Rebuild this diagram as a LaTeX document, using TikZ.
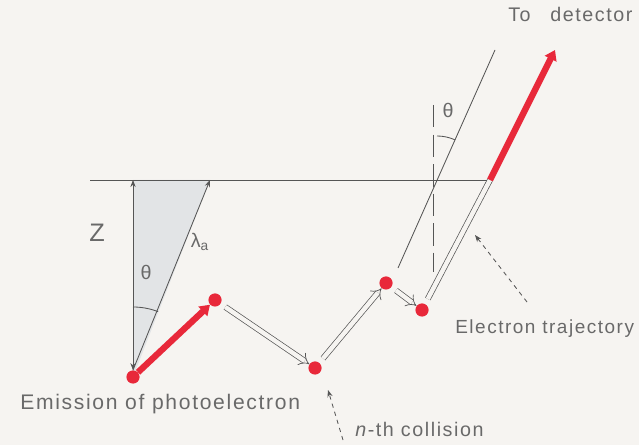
\documentclass[tikz,border=0pt]{standalone}
\usepackage{fontspec}
\setmainfont{Liberation Sans}
\usetikzlibrary{arrows.meta,positioning,calc}
\definecolor{pagebg}{RGB}{246,244,241}
\definecolor{linegray}{RGB}{85,85,85}
\definecolor{txtgray}{RGB}{105,105,105}
\definecolor{hitred}{RGB}{232,40,58}
\definecolor{shadegray}{RGB}{226,228,230}
\newfontfamily\lblfont[LetterSpace=8]{Liberation Sans}
\tikzset{
  hit/.style={circle, fill=hitred, inner sep=0pt, minimum size=0.33cm},
  lbl/.style={font=\lblfont\fontsize{14}{16}\selectfont, text=txtgray, inner sep=0pt},
  greek/.style={font=\fontsize{14}{16}\selectfont, text=txtgray, inner sep=0pt},
  thin/.style={draw=linegray, line width=0.6pt},
  redpath/.style={draw=hitred, line width=4.5pt, -{Triangle[length=7pt,width=9pt]}},
  track/.style={draw=linegray, line width=0.5pt, double=pagebg, double distance=3.2pt},
  tracka/.style={track, -{Implies}},
  pointer/.style={draw=linegray, line width=0.6pt, dashed, dash pattern=on 3pt off 3pt, -{Stealth[length=5pt]}},
}
\begin{document}
\begin{tikzpicture}[x=0.025cm, y=-0.025cm]
  \fill[pagebg] (0,0) rectangle (639,445);
  \useasboundingbox (0,0) rectangle (639,445);
  % surface and escape depth
  \coordinate (top) at (133,180);
  \coordinate (lam) at (210,180);
  \coordinate (exit) at (490,180);
  \coordinate (det) at (555,50);
  \fill[shadegray] (top) -- (lam) -- (133,377) -- cycle;
  \draw[thin] (90,180) -- (exit);
  \node[hit] (e0) at (133,377) {};
  \draw[thin, {Stealth[length=5pt]}-{Stealth[length=5pt]}] (top) -- (e0.north);
  \draw[thin, -{Stealth[length=5pt]}] (e0.north) -- (lam);
  \draw[thin] ($(e0)+(-90:70)$) arc[start angle=-90, end angle=-69, radius=70];
  \node[lbl, font=\lblfont\fontsize{18}{20}\selectfont] (zlbl) at (97,233) {Z};
  \node[greek] (th1) at (146,272) {θ};
  \node[greek] (lamlbl) at (200,242) {λ\textsubscript{a}};
  % collisions
  \node[hit] (c1) at (215,300) {};
  \node[hit] (c2) at (315,368) {};
  \node[hit] (c3) at (386,283) {};
  \node[hit] (c4) at (422,310) {};
  \draw[redpath] (e0) -- (c1);
  \draw[tracka, shorten <=4pt] (c1) -- (c2);
  \draw[tracka, shorten <=4pt] (c2) -- (c3);
  \draw[tracka, shorten <=4pt] (c3) -- (c4);
  \draw[track, shorten <=4pt] (c4) -- (exit);
  \draw[redpath] (exit) -- (det);
  % emission angle outside
  \coordinate (ln0) at (398,268);
  \coordinate (ln1) at (495,50);
  \coordinate (cross) at (437,180);
  \draw[thin] (ln0) -- (ln1);
  \draw[thin, dashed, dash pattern=on 16pt off 5pt] (433,105) -- (433,272);
  \draw[thin] ($(cross)+(-90:44)$) arc[start angle=-90, end angle=-66, radius=44];
  \node[greek] (th2) at (448,110) {θ};
  % labels
  \node[lbl, font=\lblfont\fontsize{15}{17}\selectfont, anchor=base west] (emit) at (20,410) {Emission of photoelectron};
  \node[lbl, anchor=base west] (coll) at (355,437) {\textit{n}-th collision};
  \node[lbl, font=\lblfont\fontsize{13.5}{16}\selectfont, anchor=base west] (traj) at (455,334) {Electron trajectory};
  \node[lbl, anchor=base west] (detlbl) at (508,22) {To\quad detector};
  \coordinate (p1) at (343,440);
  \coordinate (p2) at (328,390);
  \coordinate (p3) at (527,302);
  \coordinate (p4) at (475,235);
  \draw[pointer] (p1) -- (p2);
  \draw[pointer] (p3) -- (p4);
\end{tikzpicture}
\end{document}
